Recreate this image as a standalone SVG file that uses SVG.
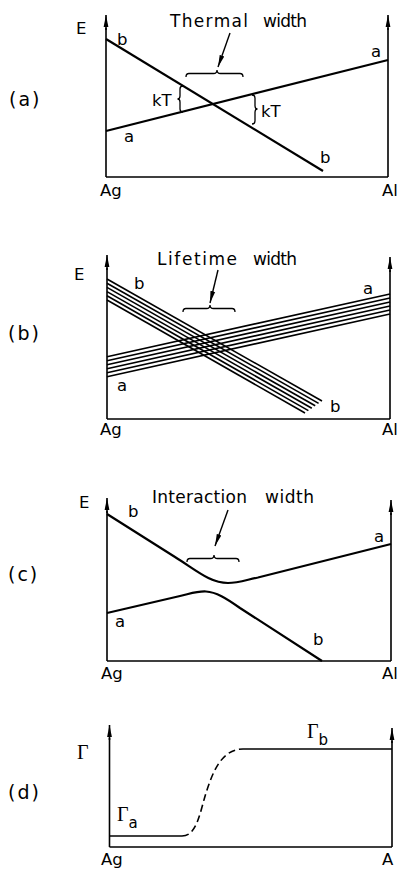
<svg xmlns="http://www.w3.org/2000/svg" width="401" height="869" viewBox="0 0 401 869">
<style>
text{font-family:"DejaVu Sans","Liberation Sans",Arial,sans-serif;fill:#000}
.lbl{font-size:16.5px}
.ttl{font-size:17px}
.pn{font-size:19px;letter-spacing:2px}
.g{font-family:"Liberation Serif","DejaVu Serif",serif;font-size:20px}
.sub{font-family:"DejaVu Sans","Liberation Sans",sans-serif;font-size:15px}
.ax{fill:none;stroke:#000;stroke-width:1.6}
.ln{fill:none;stroke:#000;stroke-width:2.2}
.bd{fill:none;stroke:#000;stroke-width:1.6}
.br{fill:none;stroke:#000;stroke-width:1.3}
.ptr{fill:none;stroke:#000;stroke-width:1.4}
.dash{fill:none;stroke:#000;stroke-width:1.6;stroke-dasharray:7 4}
</style>
<defs>
<marker id="ah" markerUnits="userSpaceOnUse" viewBox="0 0 12 6" refX="12" refY="3" markerWidth="12" markerHeight="6" orient="auto">
<path d="M0,0.6 L12,3 L0,5.4 z" fill="#000"/>
</marker>
</defs>

<!-- Panel (a) -->
<g id="panel-a">
<text class="pn" x="9" y="106">(a)</text>
<text class="lbl" x="76" y="34">E</text>
<path class="ax" d="M106,177 V28 M388,177 V28 M106,177 H388"/>
<line class="ax" x1="106" y1="30" x2="106" y2="15" marker-end="url(#ah)"/>
<line class="ax" x1="388" y1="30" x2="388" y2="15" marker-end="url(#ah)"/>
<line class="ln" x1="106" y1="39" x2="323" y2="171"/>
<line class="ln" x1="106" y1="131" x2="388" y2="60"/>
<text class="lbl" x="117" y="45">b</text>
<text class="lbl" x="371" y="57">a</text>
<text class="lbl" x="124" y="142">a</text>
<text class="lbl" x="320" y="163">b</text>
<text class="ttl" x="170" y="27" textLength="78" lengthAdjust="spacing">Thermal</text>
<text class="ttl" x="263" y="27" textLength="44" lengthAdjust="spacing">width</text>
<line class="ptr" x1="230" y1="33" x2="218" y2="67" marker-end="url(#ah)"/>
<path class="br" d="M186,77 Q186,73.5 189,73.5 H213.5 Q217,73.5 217,70 Q217,73.5 220.5,73.5 H240 Q243,73.5 243,77"/>
<path class="br" d="M183,86 Q180,86 180,89 V96 Q180,99 177.5,99 Q180,99 180,102 V109 Q180,112 183,112"/>
<text class="lbl" x="152" y="106">kT</text>
<path class="br" d="M252,95 Q255,95 255,98 V106 Q255,109 257.5,109 Q255,109 255,112 V121 Q255,124 252,124"/>
<text class="lbl" x="261" y="117">kT</text>
<text class="lbl" x="100" y="196">Ag</text>
<text class="lbl" x="382" y="196">Al</text>
</g>

<!-- Panel (b) -->
<g id="panel-b">
<text class="pn" x="8" y="340">(b)</text>
<text class="lbl" x="74" y="280">E</text>
<path class="ax" d="M107,419 V268 M390,419 V270 M107,419 H390"/>
<line class="ax" x1="107" y1="270" x2="107" y2="255" marker-end="url(#ah)"/>
<line class="ax" x1="390" y1="272" x2="390" y2="257" marker-end="url(#ah)"/>
<g class="bd">
<line x1="107" y1="279" x2="322" y2="401"/>
<line x1="107" y1="283.2" x2="318.6" y2="403.4"/>
<line x1="107" y1="287.4" x2="315.2" y2="405.8"/>
<line x1="107" y1="291.6" x2="311.8" y2="408.2"/>
<line x1="107" y1="295.8" x2="308.4" y2="410.6"/>
<line x1="107" y1="300" x2="305" y2="413"/>
<line x1="107" y1="356.7" x2="390" y2="294"/>
<line x1="107" y1="360.7" x2="390" y2="298"/>
<line x1="107" y1="364.7" x2="390" y2="302"/>
<line x1="107" y1="368.7" x2="390" y2="306"/>
<line x1="107" y1="372.7" x2="390" y2="310"/>
<line x1="107" y1="376.7" x2="390" y2="314"/>
</g>
<text class="lbl" x="134" y="289">b</text>
<text class="lbl" x="363" y="294">a</text>
<text class="lbl" x="117" y="391">a</text>
<text class="lbl" x="330" y="412">b</text>
<text class="ttl" x="157" y="265" textLength="80" lengthAdjust="spacing">Lifetime</text>
<text class="ttl" x="253" y="265" textLength="44" lengthAdjust="spacing">width</text>
<line class="ptr" x1="218" y1="270" x2="210" y2="303" marker-end="url(#ah)"/>
<path class="br" d="M183,312 Q183,308.5 186,308.5 H206.5 Q210,308.5 210,305 Q210,308.5 213.5,308.5 H232 Q235,308.5 235,312"/>
<text class="lbl" x="100" y="435">Ag</text>
<text class="lbl" x="382" y="435">Al</text>
</g>

<!-- Panel (c) -->
<g id="panel-c">
<text class="pn" x="8" y="581">(c)</text>
<text class="lbl" x="79" y="508">E</text>
<path class="ax" d="M107,661 V511 M391,661 V513 M107,661 H391"/>
<line class="ax" x1="107" y1="513" x2="107" y2="498" marker-end="url(#ah)"/>
<line class="ax" x1="391" y1="515" x2="391" y2="500" marker-end="url(#ah)"/>
<path class="ln" d="M107,514 L175,557 C196,570 210,583 228,583 C238,583 246,580 258,577.5 L391,544"/>
<path class="ln" d="M107,613 L180,596 C192,593.2 198,591 206,591.5 C216,592 226,598 240,608 L322,661"/>
<text class="lbl" x="128" y="517">b</text>
<text class="lbl" x="374" y="542">a</text>
<text class="lbl" x="115" y="627">a</text>
<text class="lbl" x="313" y="645">b</text>
<text class="ttl" x="152" y="503" textLength="95" lengthAdjust="spacing">Interaction</text>
<text class="ttl" x="265" y="503" textLength="49" lengthAdjust="spacing">width</text>
<line class="ptr" x1="228" y1="510" x2="215" y2="546" marker-end="url(#ah)"/>
<path class="br" d="M187,562 Q187,558.5 190,558.5 H210.5 Q214,558.5 214,555 Q214,558.5 217.5,558.5 H236 Q239,558.5 239,562"/>
<text class="lbl" x="101" y="679">Ag</text>
<text class="lbl" x="382" y="679">Al</text>
</g>

<!-- Panel (d) -->
<g id="panel-d">
<text class="pn" x="8" y="799">(d)</text>
<text class="g" x="77" y="759">Γ</text>
<path class="ax" d="M109.5,847 V738 M392,847 V741 M109.5,847 H392"/>
<line class="ax" x1="109.5" y1="740" x2="109.5" y2="725" marker-end="url(#ah)"/>
<line class="ax" x1="392" y1="743" x2="392" y2="728" marker-end="url(#ah)"/>
<line class="ax" x1="109.5" y1="836" x2="182" y2="836"/>
<path class="dash" d="M182,836 C197,836 200,812 206,793 C213,771 222,749 243,749"/>
<line class="ax" x1="243" y1="749" x2="392" y2="749"/>
<text class="g" x="117" y="821">Γ<tspan class="sub" dy="7">a</tspan></text>
<text class="g" x="307" y="738">Γ<tspan class="sub" dy="7">b</tspan></text>
<text class="lbl" x="101" y="865">Ag</text>
<text class="lbl" x="382" y="865">A</text>
</g>
</svg>
